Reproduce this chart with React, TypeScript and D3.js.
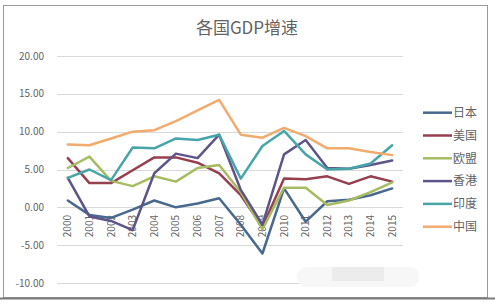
import React from "react";
import * as d3 from "d3";

const years = ["2000","2001","2002","2003","2004","2005","2006","2007","2008","2009","2010","2011","2012","2013","2014","2015"];
const yTicks = [20, 15, 10, 5, 0, -5, -10];

const japan = [0.9, -1.0, -1.4, -0.3, 0.9, 0.0, 0.5, 1.2, -2.3, -6.1, 2.5, -1.9, 0.8, 1.0, 1.6, 2.5];
const usa = [6.5, 3.2, 3.2, 4.9, 6.6, 6.6, 5.9, 4.5, 1.6, -2.6, 3.8, 3.7, 4.1, 3.1, 4.1, 3.4];
const eu = [5.2, 6.7, 3.5, 2.8, 4.1, 3.4, 5.2, 5.6, 2.0, -2.9, 2.6, 2.6, 0.3, 0.9, 2.0, 3.3];
const hk = [3.9, -1.2, -1.8, -3.0, 4.5, 7.1, 6.5, 9.6, 2.3, -2.3, 7.0, 8.9, 5.2, 5.1, 5.6, 6.2];
const india = [3.9, 5.0, 3.6, 7.9, 7.8, 9.1, 8.9, 9.6, 3.8, 8.1, 10.1, 7.0, 5.0, 5.1, 5.8, 8.2];
const china = [8.3, 8.2, 9.1, 10.0, 10.2, 11.4, 12.8, 14.2, 9.6, 9.2, 10.5, 9.4, 7.8, 7.8, 7.3, 6.9];

const seriesNames = ["日本", "美国", "欧盟", "香港", "印度", "中国"];
const seriesValues = [japan, usa, eu, hk, india, china];
const seriesColors = ["#48698d", "#963f4e", "#a6bc62", "#5f548a", "#47a5a9", "#f3ab6d"];

const FONT = "'Noto Sans CJK SC', 'Noto Sans', sans-serif";

export default function App() {
  const W = 495, H = 307;
  const x = d3.scaleBand<string>().domain(years).range([57, 403]);
  const y = d3.scaleLinear().domain([-10, 20]).range([283, 56]);
  const line = d3.line<number>()
    .x((_, i) => (x(years[i]) as number) + x.bandwidth() / 2)
    .y((d) => y(d));

  return (
    <svg width={W} height={H} style={{ position: "absolute", left: 0, top: 0, background: "#fff" }}>
      <rect x={0} y={0} width={W} height={H} fill="#fff" />
      <rect x={3.5} y={5.5} width={484} height={292} fill="#fff" stroke="#9a9a9a" strokeWidth={1} />
      <line x1={0} x2={W} y1={298.5} y2={298.5} stroke="#7a7a7a" strokeWidth={2} />
      <text x={247} y={34} textAnchor="middle" fontFamily={FONT} fontSize={17} fill="#636363">各国GDP增速</text>
      {yTicks.map((t) => (
        <g key={t}>
          <line x1={57} x2={403} y1={Math.round(y(t)) + 0.5} y2={Math.round(y(t)) + 0.5} stroke="#d9d9d9" strokeWidth={1} />
          <text x={44} y={y(t)} dy="0.35em" textAnchor="end" fontFamily={FONT} fontSize={10} fill="#636363">{t.toFixed(2)}</text>
        </g>
      ))}
      {years.map((yr) => {
        const cx = (x(yr) as number) + x.bandwidth() / 2;
        return (
          <text key={yr} x={0} y={0} transform={`translate(${cx},215) rotate(-90)`} dy="0.35em" textAnchor="end"
            fontFamily={FONT} fontSize={10} fill="#636363">{yr}</text>
        );
      })}
      {seriesValues.map((vals, i) => (
        <path key={seriesNames[i]} d={line(vals) as string} fill="none" stroke={seriesColors[i]} strokeWidth={2.5}
          strokeLinejoin="round" strokeLinecap="round" />
      ))}
      {seriesNames.map((n, i) => {
        const ly = 112.7 + i * 22.8;
        return (
          <g key={n}>
            <line x1={423} x2={452} y1={ly} y2={ly} stroke={seriesColors[i]} strokeWidth={2.5} />
            <text x={453} y={ly} dy="0.35em" fontFamily={FONT} fontSize={12} fill="#636363">{n}</text>
          </g>
        );
      })}
      <rect x={297} y={267} width={122} height={20} rx={9} fill="#f7f7f7" />
      <rect x={332} y={267} width={52} height={14} fill="#ececec" />
    </svg>
  );
}
